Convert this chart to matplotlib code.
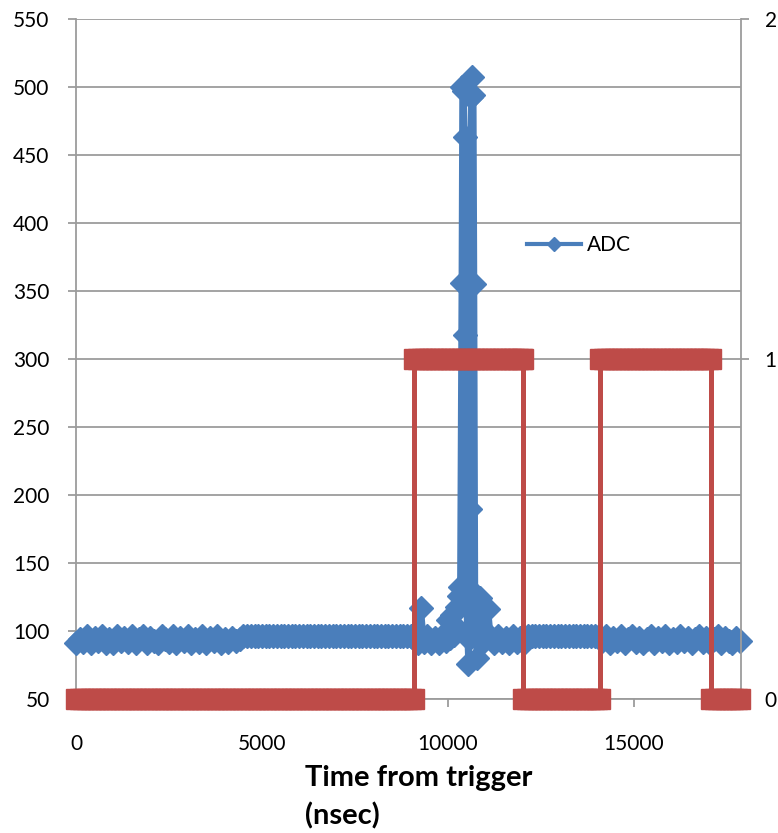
import numpy as np
import matplotlib
matplotlib.use("Agg")
import matplotlib.pyplot as plt

plt.rcParams['font.family'] = ['Lato', 'DejaVu Sans']

# ---- data ----
# early baseline (jittery), 0 .. 4400 ns
seg_a_time = [0, 100, 200, 300, 400, 500, 600, 700, 800, 900, 1000, 1100, 1200, 1300, 1400,
              1500, 1600, 1700, 1800, 1900, 2000, 2100, 2200, 2300, 2400, 2500, 2600, 2700, 2800, 2900,
              3000, 3100, 3200, 3300, 3400, 3500, 3600, 3700, 3800, 3900, 4000, 4100, 4200, 4300, 4400]
seg_a_value = [91, 94, 92, 96, 91, 95, 93, 96, 91, 94, 91, 96, 93, 95, 92,
               96, 91, 94, 96, 91, 95, 93, 91, 96, 94, 92, 96, 91, 95, 93,
               96, 91, 94, 92, 96, 91, 95, 93, 96, 91, 94, 92, 95, 93, 94]
# quiet flat baseline 4500 .. 9000 ns
seg_b_time = [4500, 4600, 4700, 4800, 4900, 5000, 5100, 5200, 5300, 5400, 5500, 5600, 5700, 5800,
              5900, 6000, 6100, 6200, 6300, 6400, 6500, 6600, 6700, 6800, 6900, 7000, 7100, 7200,
              7300, 7400, 7500, 7600, 7700, 7800, 7900, 8000, 8100, 8200, 8300, 8400, 8500, 8600,
              8700, 8800, 8900, 9000]
seg_b_value = [96, 96, 96, 96, 96, 96, 96, 96, 96, 96, 96, 96, 96, 96,
               96, 96, 96, 96, 96, 96, 96, 96, 96, 96, 96, 96, 96, 96,
               96, 96, 96, 96, 96, 96, 96, 96, 96, 96, 96, 96, 96, 96,
               96, 96, 96, 96]
# pulse region 9100 .. 12050 ns
seg_c_time = [9100, 9200, 9270, 9350, 9450, 9550, 9650, 9750, 9850, 9950, 10000, 10050, 10100,
              10150, 10200, 10250, 10300, 10330, 10370, 10390, 10420, 10455, 10470, 10500,
              10525, 10550, 10575, 10595, 10605, 10625, 10660, 10685, 10705, 10730, 10755,
              10775, 10810, 10850, 10870, 10920, 10960, 11000, 11080, 11150, 11250, 11350,
              11450, 11550, 11650, 11750, 11850, 11950, 12050]
seg_c_value = [94, 91, 117, 92, 96, 91, 95, 91, 96, 93, 108, 95, 112,
               97, 104, 118, 126, 132, 356, 500, 497, 463, 318, 118,
               98, 76, 94, 128, 190, 493, 507, 494, 355, 127, 108,
               80, 96, 121, 124, 102, 93, 99, 116, 94, 91, 96,
               92, 95, 91, 96, 92, 95, 91]
# flat baseline 12150 .. 14050 ns
seg_d_time = [12150, 12250, 12350, 12450, 12550, 12650, 12750, 12850, 12950, 13050,
              13150, 13250, 13350, 13450, 13550, 13650, 13750, 13850, 13950, 14050]
seg_d_value = [96, 96, 96, 96, 96, 96, 96, 96, 96, 96,
               96, 96, 96, 96, 96, 96, 96, 96, 96, 96]
# late baseline (jittery) 14150 .. 17850 ns
seg_e_time = [14150, 14250, 14350, 14450, 14550, 14650, 14750, 14850, 14950, 15050, 15150,
              15250, 15350, 15450, 15550, 15650, 15750, 15850, 15950, 16050, 16150, 16250,
              16350, 16450, 16550, 16650, 16750, 16850, 16950, 17050, 17150, 17250, 17350,
              17450, 17550, 17650, 17750, 17850]
seg_e_value = [93, 96, 91, 95, 93, 96, 91, 94, 96, 92, 95,
               91, 94, 96, 91, 95, 93, 96, 91, 94, 92, 96,
               93, 95, 91, 94, 96, 92, 95, 91, 94, 96, 91,
               95, 93, 91, 95, 93]

# secondary series: runs of constant level (start time, end time, level)
red_start = [0, 9090, 12020, 14090, 17075]
red_end = [9090, 12020, 14090, 17075, 17860]
red_level = [0, 1, 0, 1, 0]
red_step = 100  # sample spacing of the trace (ns)

left_ticks = list(range(50, 551, 50))
right_ticks = [0, 1, 2]
x_ticks = [0, 5000, 10000, 15000]

adc_time = seg_a_time + seg_b_time + seg_c_time + seg_d_time + seg_e_time
adc_value = seg_a_value + seg_b_value + seg_c_value + seg_d_value + seg_e_value

red_t, red_v = [], []
for s, e, lv in zip(red_start, red_end, red_level):
    tt = list(np.arange(s, e, red_step)) + [e]
    red_t += tt
    red_v += [lv] * len(tt)

BLUE = '#4A7EBB'
RED = '#BE4B48'
GRID = '#9c9c9c'

fig = plt.figure(figsize=(7.78, 8.33), dpi=100)
ax = fig.add_axes([76 / 778, 1 - 699 / 833, 665 / 778, 680 / 833])

ax.plot(adc_time, adc_value, color=BLUE, lw=4.5, marker='D', ms=12,
        mfc=BLUE, mec=BLUE, label='ADC', zorder=3, clip_on=False)
ax.set_xlim(0, 17880)
ax.set_ylim(50, 550)
ax.set_yticks(left_ticks)
ax.set_xticks(x_ticks)
ax.grid(axis='y', color=GRID, lw=1.3, zorder=0)
ax.set_axisbelow(True)
for sp in ['top', 'right']:
    ax.spines[sp].set_visible(False)
for sp in ['left', 'bottom']:
    ax.spines[sp].set_color(GRID)
    ax.spines[sp].set_linewidth(1.3)
ax.tick_params(axis='y', direction='out', length=6, width=1.3, color=GRID,
               pad=13, labelsize=15)
ax.tick_params(axis='x', direction='out', length=6, width=1.3, color=GRID,
               pad=19, labelsize=15)

ax2 = ax.twinx()
ax2.plot(red_t, red_v, color=RED, lw=3.6, marker='s', ms=14.5, mfc=RED,
         mec=RED, zorder=4, clip_on=False)
ax2.set_ylim(0, 2)
ax2.set_yticks(right_ticks)
for sp in ['top', 'left', 'bottom']:
    ax2.spines[sp].set_visible(False)
ax2.spines['right'].set_color(GRID)
ax2.spines['right'].set_linewidth(1.3)
ax2.tick_params(axis='y', direction='out', length=6, width=1.3, color=GRID,
                pad=11, labelsize=15)

leg = ax.legend(loc='center left', bbox_to_anchor=(527 / 778, 1 - 245 / 833),
                bbox_transform=fig.transFigure, frameon=False, fontsize=15,
                handlelength=2.6, handletextpad=0.3, borderpad=0, borderaxespad=0,
                markerscale=0.6)
for h in leg.get_lines():
    h.set_linewidth(3.0)

fig.text(305 / 778, 1 - 765 / 833, "Time from trigger\n(nsec)", ha='left', va='top',
         fontsize=21, fontweight='bold', linespacing=1.5)

fig.savefig('out.png', dpi=100)
